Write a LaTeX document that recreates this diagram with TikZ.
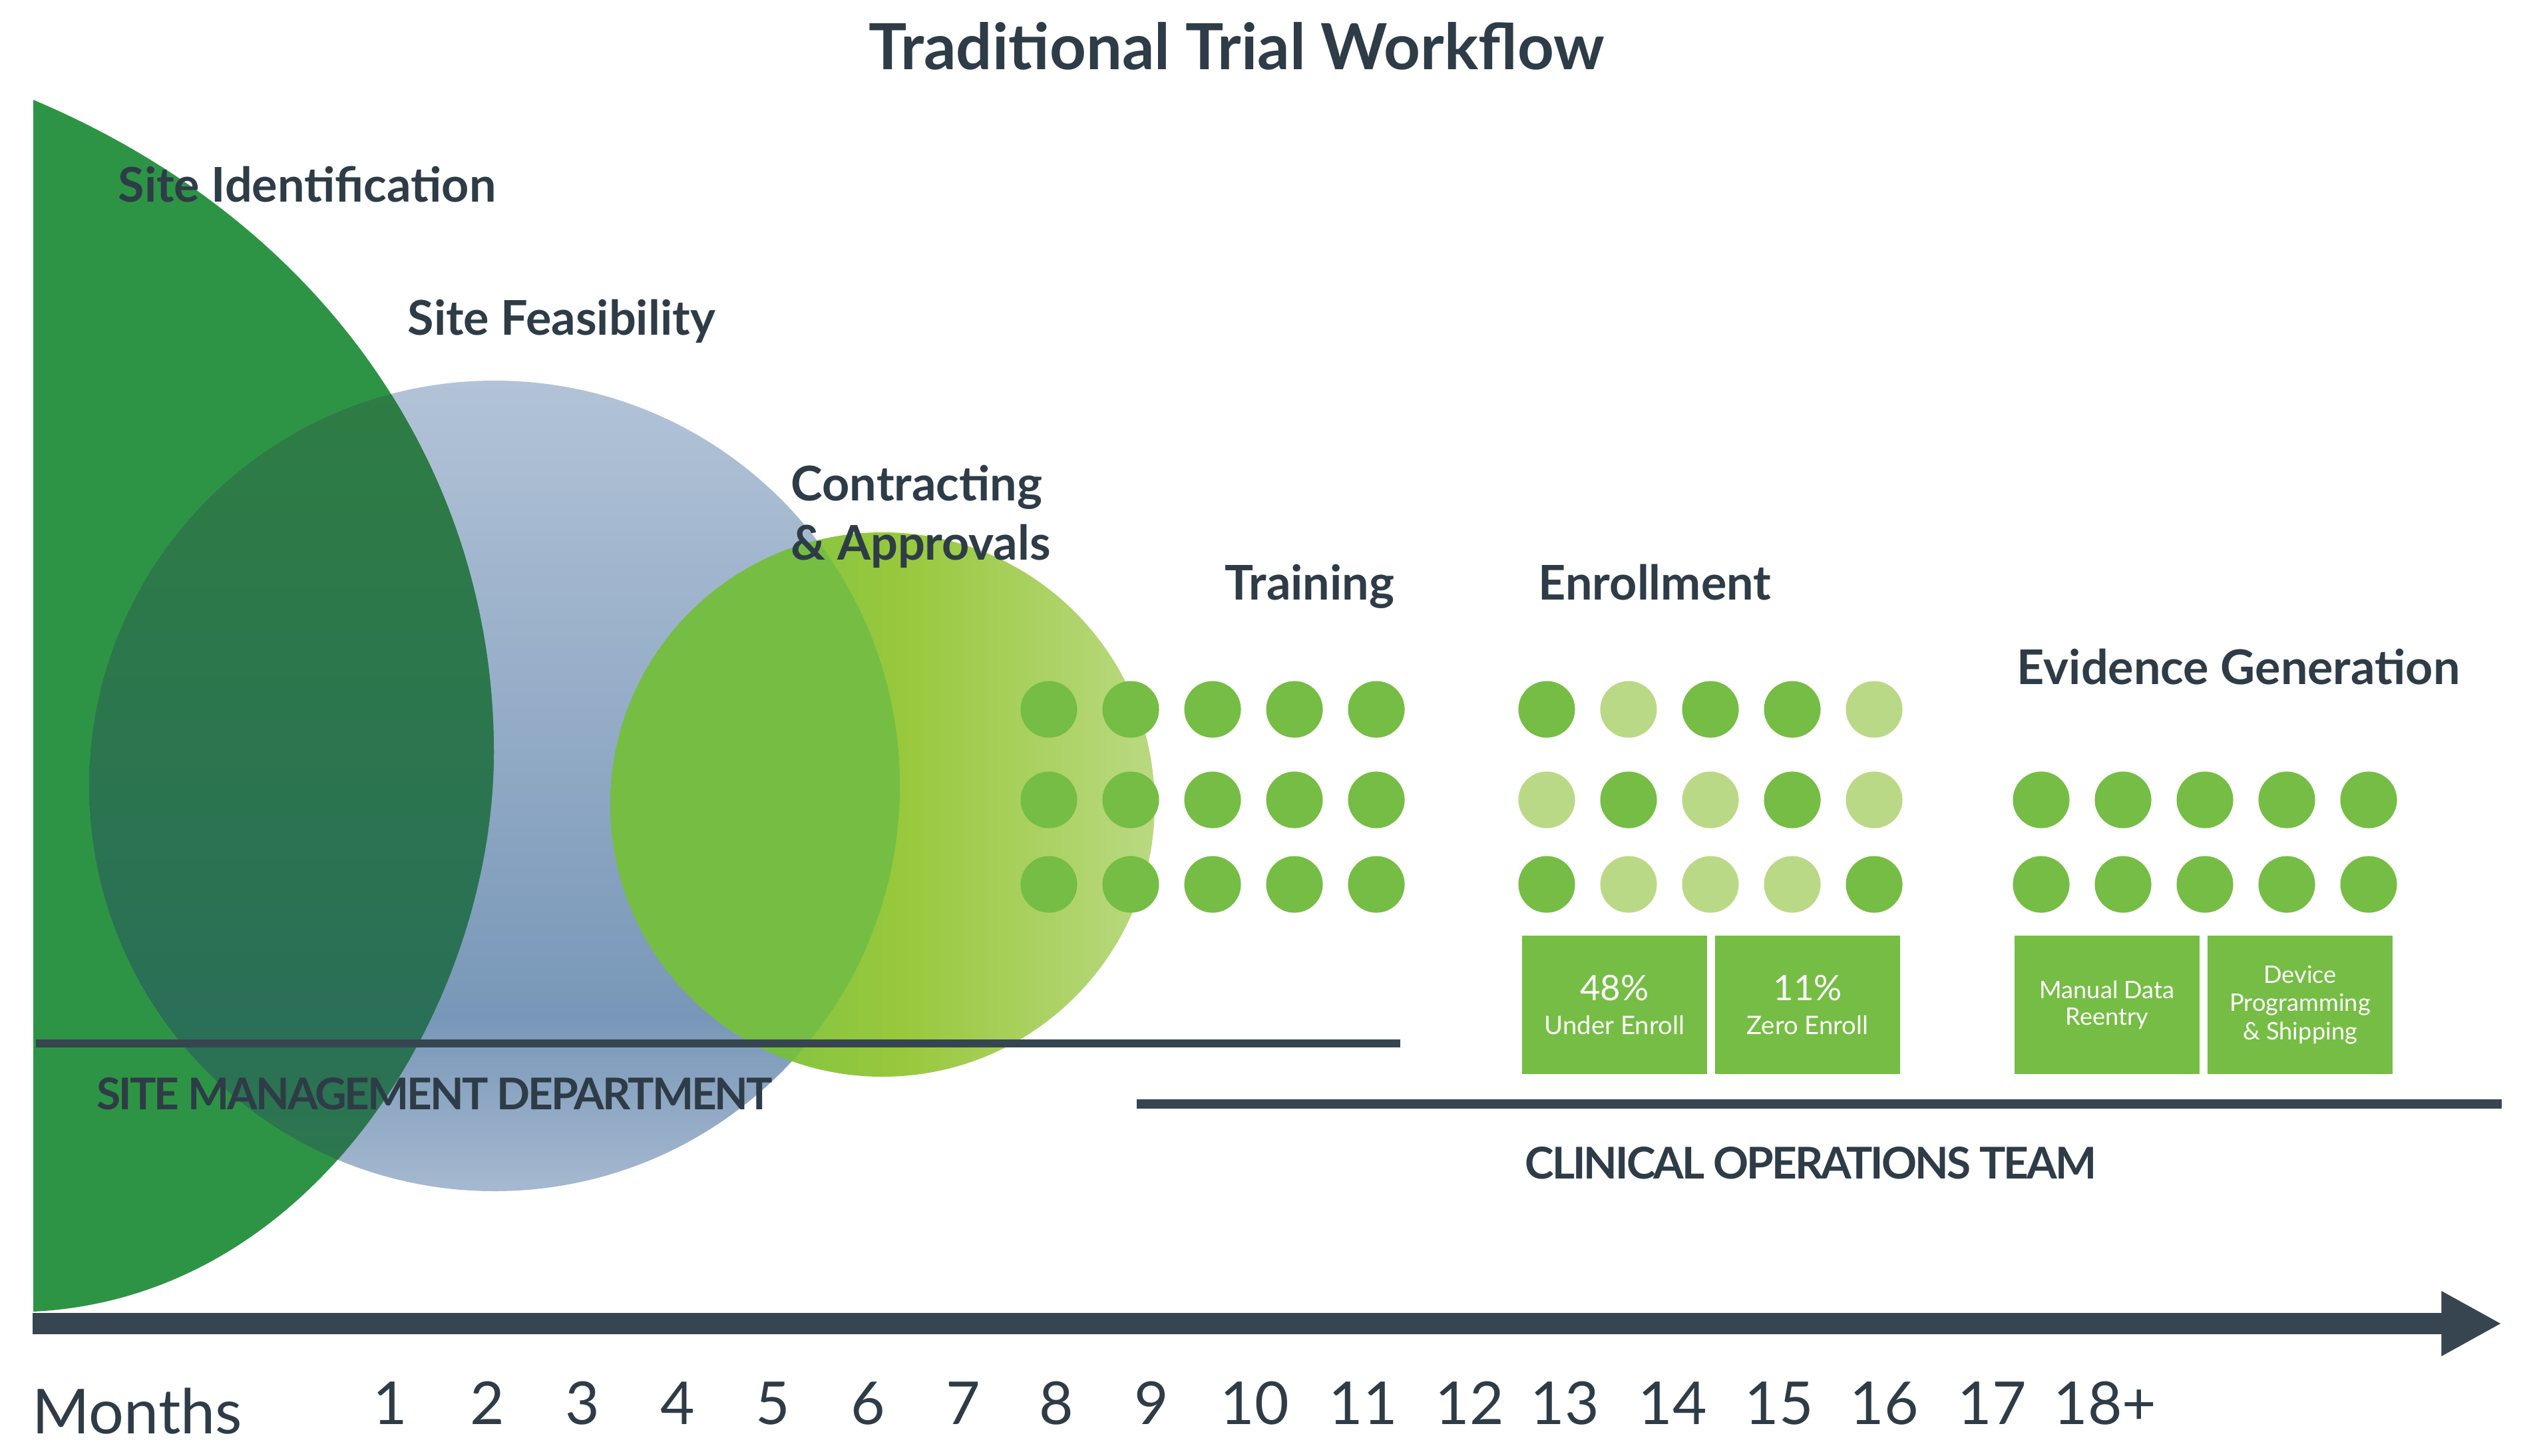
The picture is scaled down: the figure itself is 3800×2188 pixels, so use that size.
\documentclass[tikz,border=0pt]{standalone}
\usepackage{fontspec}
\setmainfont{Lato}
\newfontfamily\deptfont[LetterSpace=-4.6]{Lato}
\usetikzlibrary{arrows.meta,positioning}

\definecolor{slate}{HTML}{2E3C47}
\definecolor{barslate}{HTML}{36454F}
\definecolor{siteid}{HTML}{2E9445}
\definecolor{leaf}{HTML}{75BD44}
\definecolor{pale}{HTML}{BAD986}
\definecolor{lens}{HTML}{76BD43}
\definecolor{feastop}{HTML}{B2C3D7}
\definecolor{feasdark}{HTML}{7897B8}
\definecolor{feasbot}{HTML}{A6B9D0}
\definecolor{ovtop}{HTML}{2E7D43}
\definecolor{ovdark}{HTML}{2A6F57}
\definecolor{ovbot}{HTML}{2D794C}
\definecolor{ctr0}{HTML}{78BD43}
\definecolor{ctr1}{HTML}{8DC63F}
\definecolor{ctr2}{HTML}{98C83C}
\definecolor{ctr3}{HTML}{BAD981}

\pgfdeclareverticalshading{feasshade}{100bp}{color(0bp)=(feasbot); color(25bp)=(feasbot); color(35.6bp)=(feasdark); color(75bp)=(feastop); color(100bp)=(feastop)}
\pgfdeclareverticalshading{overlapshade}{100bp}{color(0bp)=(ovbot); color(25bp)=(ovbot); color(35.6bp)=(ovdark); color(75bp)=(ovtop); color(100bp)=(ovtop)}
\pgfdeclarehorizontalshading{contractshade}{100bp}{color(0bp)=(ctr0); color(25bp)=(ctr0); color(45bp)=(ctr1); color(51.6bp)=(ctr2); color(75bp)=(ctr3); color(100bp)=(ctr3)}

\begin{document}
\begin{tikzpicture}[x=0.01cm,y=-0.01cm,
    every node/.style={inner sep=0pt, text=slate},
    heading/.style={anchor=base west, font=\fontsize{20.45}{25.3}\selectfont\bfseries},
    dept/.style={anchor=base west, font=\fontsize{18.7}{22}\selectfont\deptfont\bfseries},
    month/.style={anchor=base, font=\fontsize{25.3}{30}\selectfont},
    dotfull/.style={circle, fill=leaf, minimum size=24.2pt},
    statbox/.style={rectangle, fill=leaf, minimum width=79.1pt, minimum height=59.2pt,
        text=white, align=center, font=\fontsize{10.9}{14.4}\selectfont},
    band/.style={barslate, line width=3.4pt}]
    \useasboundingbox (0,0) rectangle (3800,2188);

    % phase shapes
    \shade[shading=feasshade] (743,1181) circle[radius=609];
    \fill[siteid] (50,150) .. controls (500,340) and (742,720) .. (742,1130)
        .. controls (742,1500) and (480,1950) .. (50,1971) -- cycle;
    \begin{scope}
        \clip (50,150) .. controls (500,340) and (742,720) .. (742,1130)
            .. controls (742,1500) and (480,1950) .. (50,1971) -- cycle;
        \shade[shading=overlapshade] (743,1181) circle[radius=609];
    \end{scope}
    \shade[shading=contractshade] (1326,1209) circle[radius=409];
    \begin{scope}
        \clip (743,1181) circle[radius=609];
        \fill[lens] (1326,1209) circle[radius=409];
    \end{scope}

    \node[anchor=base, font=\fontsize{27.2}{32}\selectfont\bfseries] (title) at (1858,105) {Traditional Trial Workflow};

    \node[heading] (siteid-lbl) at (177,303) {Site Identification};
    \node[heading] (feas-lbl) at (612,503) {Site Feasibility};
    \node[heading, align=left] (contract-lbl) at (1188,841) {Contracting\\\& Approvals};
    \node[heading] (train-lbl) at (1840,901) {Training};
    \node[heading] (enrol-lbl) at (2311,901) {Enrollment};
    \node[heading] (evid-lbl) at (3030,1028) {Evidence Generation};

    % dots
    \foreach \y [count=\r] in {1066,1202,1329}
        \foreach \x [count=\c] in {1576,1699,1822,1945,2068}
            \node[dotfull] (train-\r-\c) at (\x,\y) {};
    \foreach \y/\pat [count=\r] in {1066/{leaf,pale,leaf,leaf,pale},1202/{pale,leaf,pale,leaf,pale},1329/{leaf,pale,pale,pale,leaf}}
        \foreach \col [count=\c] in \pat
            \node[dotfull, fill=\col] (enrol-\r-\c) at ({2324+123*(\c-1)},\y) {};
    \foreach \y [count=\r] in {1202,1329}
        \foreach \x [count=\c] in {3067,3190,3313,3436,3559}
            \node[dotfull] (evid-\r-\c) at (\x,\y) {};

    % boxes
    \node[statbox] (under) at (2426,1510) {{\fontsize{15}{14.4}\selectfont 48\%}\\Under Enroll};
    \node[statbox, right=3pt of under] (zero) {{\fontsize{15}{14.4}\selectfont 11\%}\\Zero Enroll};
    \node[statbox, font=\fontsize{10.3}{11.4}\selectfont] (reentry) at (3166,1510) {Manual Data\\Reentry};
    \node[statbox, font=\fontsize{10.3}{12}\selectfont, right=3pt of reentry] (device) {Device\\Programming\\\& Shipping};

    % departments
    \coordinate (smd-west) at (54,1568);
    \coordinate (smd-east) at (2104,1568);
    \draw[band] (smd-west) -- (smd-east);
    \node[dept] (smd-lbl) at (145,1667) {SITE MANAGEMENT DEPARTMENT};
    \coordinate (cot-west) at (1708,1659);
    \coordinate (cot-east) at (3759,1659);
    \draw[band, line width=4pt] (cot-west) -- (cot-east);
    \node[dept] (cot-lbl) at (2291,1771) {CLINICAL OPERATIONS TEAM};

    % time axis
    \coordinate (axis-west) at (49,1989);
    \coordinate (axis-east) at (3759,1989);
    \draw[barslate, line width=9.1pt, -{Triangle[length=25.8pt,width=25.9pt]}] (axis-west) -- (axis-east);
    \node[anchor=base west, font=\fontsize{26.5}{30}\selectfont] (months) at (48,2154) {Months};
    \foreach \x/\m [count=\i] in {586/1,732/2,875/3,1018/4,1161/5,1304/6,1447/7,1587/8,1730/9,1885/10,2048/11,2208/12,2351/13,2513/14,2673/15,2831/16,2993/17,3163/18+}
        \node[month] (month-\i) at (\x,2140) {\m};
\end{tikzpicture}
\end{document}
